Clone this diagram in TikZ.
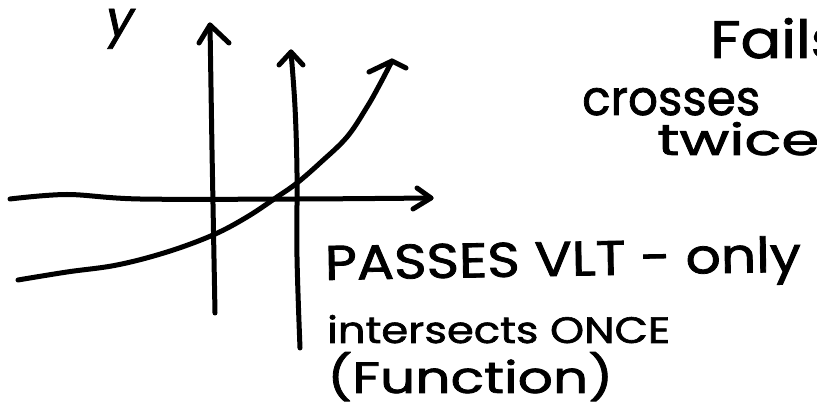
\documentclass[tikz,border=0pt]{standalone}
\usepackage{fontspec}
\newfontfamily\hand[FakeBold=1.6]{Poppins}
\begin{document}
\begin{tikzpicture}[x=1pt,y=-1pt,
  stroke/.style={line width=5pt,line cap=round,line join=round},
  lbl/.style={font=\hand,anchor=base west,inner sep=0pt}]
\useasboundingbox (0,0) rectangle (817,411);
% named ends
\coordinate (xl) at (10,199);
\coordinate (xr) at (431,198);
\coordinate (yb) at (215,313);
\coordinate (yt) at (210,25);
\coordinate (vb) at (300,348);
\coordinate (vt) at (291,52);
\coordinate (cl) at (18,280);
\coordinate (ct) at (392,61);
% x axis
\draw[stroke] plot[smooth,tension=0.55] coordinates {(xl) (67,194.5) (140,199) (300,199) (xr)};
\draw[stroke] (417,188) -- (xr) -- (413,209);
% y axis
\draw[stroke] (yb) -- (212,150) -- (yt);
\draw[stroke] (199,43) -- (yt) -- (229,43);
% vertical test line
\draw[stroke] plot[smooth,tension=0.6] coordinates {(vb) (297,257) (297,173) (295,107) (vt)};
\draw[stroke] (279,65) -- (vt) -- (303,65);
% curve
\draw[stroke] plot[smooth,tension=0.6] coordinates {(cl) (67,272) (117,265) (167,252) (213,235) (247,217) (277,197) (297,183) (320,163) (347,137) (367,107) (380,84) (ct)};
\draw[stroke] (369,72) -- (ct) -- (406,68);
% labels
\node[lbl] (ylab) at (106,36) {\resizebox{!}{27pt}{\hand\itshape y}};
\node[lbl] (fails) at (710,58) {\resizebox{132pt}{40pt}{\hand Fails}};
\node[lbl] (crosses) at (582,115) {\resizebox{178pt}{27pt}{\hand crosses}};
\node[lbl] (twice) at (657,155) {\resizebox{162pt}{33pt}{\hand twice}};
\node[lbl,rotate=1] (passes) at (325,280) {\resizebox{476pt}{36pt}{\hand PASSES VLT - only}};
\node[lbl] (inter) at (327,343) {\resizebox{343pt}{28pt}{\hand intersects ONCE}};
\node[lbl] (func) at (327,393) {\resizebox{286pt}{41pt}{\hand (Function)}};
\end{tikzpicture}
\end{document}
